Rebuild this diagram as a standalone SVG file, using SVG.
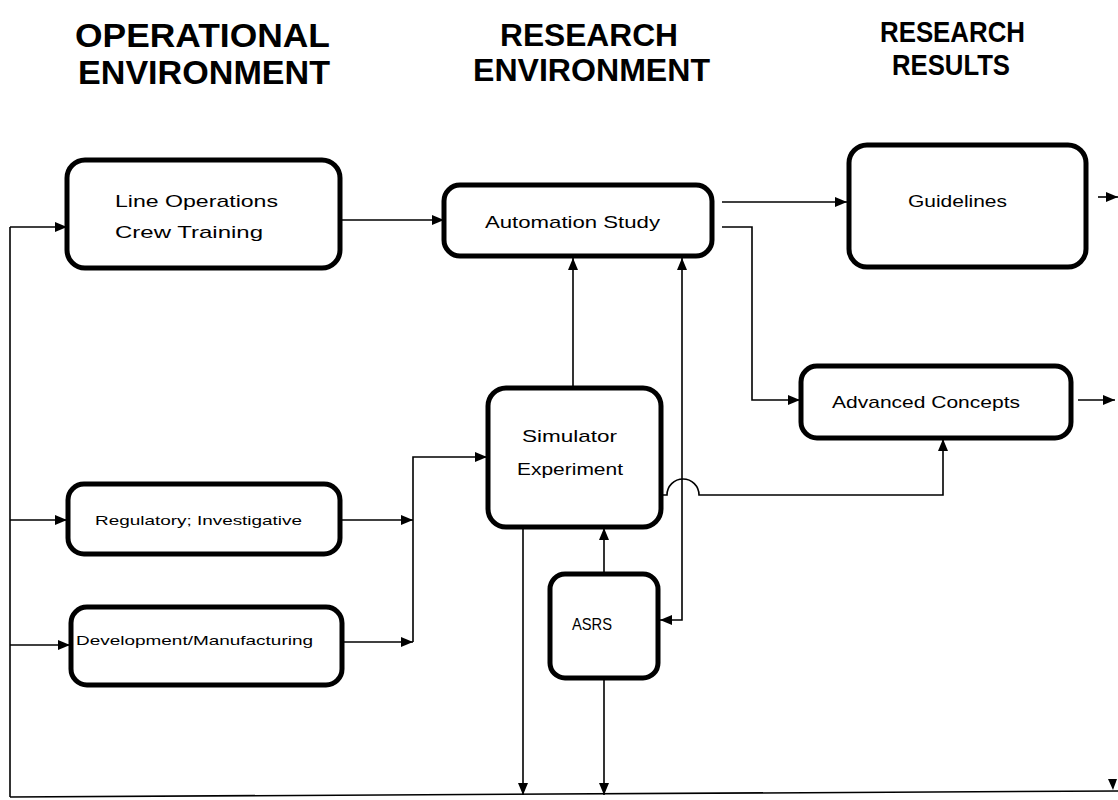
<svg xmlns="http://www.w3.org/2000/svg" width="1118" height="800" viewBox="0 0 1118 800">
<style>
.box{fill:#fff;stroke:#000;stroke-width:5}
.lbl{font-family:"Liberation Sans",Arial,sans-serif;font-size:17px;fill:#000}
.sm{font-size:13px}
.ttl{font-family:"Liberation Sans",Arial,sans-serif;font-weight:bold;font-size:33px;fill:#000}
.c{fill:none;stroke:#000;stroke-width:1.6}
.a{marker-end:url(#ah)}
</style>
<defs>
<marker id="ah" viewBox="0 0 12 10" refX="12" refY="5" markerWidth="12" markerHeight="10" markerUnits="userSpaceOnUse" orient="auto-start-reverse">
<path d="M0,0 L12,5 L0,10 z" fill="#000"/>
</marker>
</defs>
<rect width="1118" height="800" fill="#fff"/>
<g id="titles">
<text class="ttl" x="75" y="47" textLength="255" lengthAdjust="spacingAndGlyphs">OPERATIONAL</text>
<text class="ttl" x="78" y="84" textLength="252" lengthAdjust="spacingAndGlyphs">ENVIRONMENT</text>
<text class="ttl" x="500" y="46" textLength="178" lengthAdjust="spacingAndGlyphs" style="font-size:31px">RESEARCH</text>
<text class="ttl" x="473" y="81" textLength="237" lengthAdjust="spacingAndGlyphs" style="font-size:31px">ENVIRONMENT</text>
<text class="ttl" x="880" y="42" textLength="145" lengthAdjust="spacingAndGlyphs" style="font-size:29.5px">RESEARCH</text>
<text class="ttl" x="892" y="75" textLength="118" lengthAdjust="spacingAndGlyphs" style="font-size:29.5px">RESULTS</text>
</g>
<g id="connectors">
<path class="c a" d="M340,220 H444"/>
<path class="c a" d="M722,202 H847"/>
<path class="c a" d="M722,227 H752 V400 H800"/>
<path class="c a" d="M1098,197 H1118"/>
<path class="c a" d="M1078,400 H1115"/>
<path class="c a" d="M573,387 V258"/>
<path class="c a" d="M662,495 H667 A16,16 0 0 1 699,495 H943 V439"/>
<path class="c" d="M660,620 H682 V258" marker-start="url(#ah)" marker-end="url(#ah)"/>
<path class="c a" d="M604,573 V528"/>
<path class="c a" d="M340,520 H413"/>
<path class="c a" d="M342,642 H413"/>
<path class="c a" d="M413,642 V457 H487"/>
<path class="c" d="M10,797 V227"/>
<path class="c a" d="M10,227 H67"/>
<path class="c a" d="M10,520 H67"/>
<path class="c a" d="M10,645 H70"/>
<path class="c" d="M10,797 L1118,791"/>
<path class="c a" d="M523,527 V795"/>
<path class="c a" d="M604,678 V795"/>
<path d="M1108,779 L1117,779 L1113,790 z" fill="#000"/>
</g>
<g id="line-ops">
<rect class="box" x="67" y="160" width="273" height="108" rx="18"/>
<text class="lbl" x="115" y="207" textLength="163" lengthAdjust="spacingAndGlyphs">Line Operations</text>
<text class="lbl" x="115" y="238" textLength="148" lengthAdjust="spacingAndGlyphs">Crew Training</text>
</g>
<g id="automation">
<rect class="box" x="444" y="185" width="268" height="71" rx="16"/>
<text class="lbl" x="485" y="228" textLength="175" lengthAdjust="spacingAndGlyphs">Automation Study</text>
</g>
<g id="guidelines">
<rect class="box" x="849" y="145" width="237" height="122" rx="18"/>
<text class="lbl" x="908" y="207" textLength="99" lengthAdjust="spacingAndGlyphs">Guidelines</text>
</g>
<g id="advanced">
<rect class="box" x="801" y="366" width="270" height="72" rx="16"/>
<text class="lbl" x="832" y="408" textLength="188" lengthAdjust="spacingAndGlyphs">Advanced Concepts</text>
</g>
<g id="simulator">
<rect class="box" x="488" y="388" width="173" height="139" rx="18"/>
<text class="lbl" x="522" y="442" textLength="95" lengthAdjust="spacingAndGlyphs">Simulator</text>
<text class="lbl" x="517" y="475" textLength="106" lengthAdjust="spacingAndGlyphs">Experiment</text>
</g>
<g id="asrs">
<rect class="box" x="550" y="574" width="108" height="104" rx="15"/>
<text class="lbl" x="572" y="630" textLength="40" lengthAdjust="spacingAndGlyphs">ASRS</text>
</g>
<g id="regulatory">
<rect class="box" x="68" y="484" width="272" height="70" rx="16"/>
<text class="lbl sm" x="95" y="525" textLength="207" lengthAdjust="spacingAndGlyphs">Regulatory; Investigative</text>
</g>
<g id="development">
<rect class="box" x="71" y="607" width="271" height="78" rx="16"/>
<text class="lbl sm" x="76" y="645" textLength="237" lengthAdjust="spacingAndGlyphs">Development/Manufacturing</text>
</g>
</svg>
